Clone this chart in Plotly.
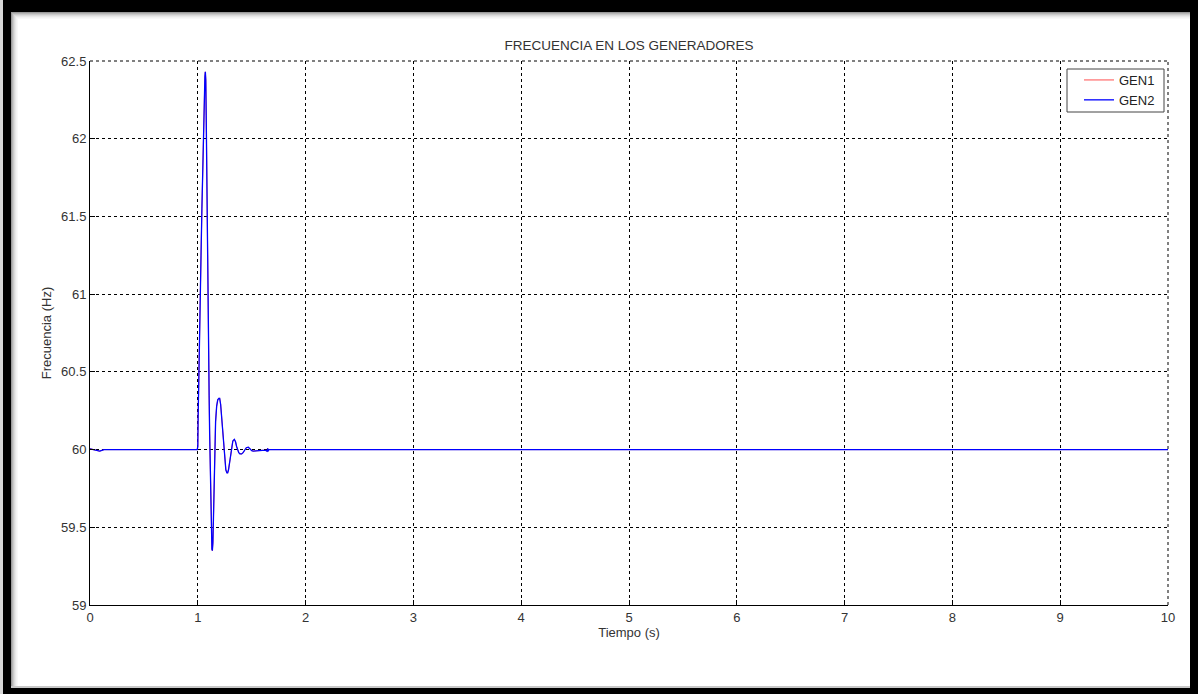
import plotly.graph_objects as go

# ---- data ----
time_s = [0.0, 0.03, 0.05, 0.07, 0.09, 0.11, 0.13, 0.995,
          1.000, 1.003, 1.008, 1.015, 1.022, 1.030, 1.038, 1.046, 1.053, 1.060, 1.066, 1.070,
          1.074, 1.078, 1.083, 1.088, 1.093, 1.099, 1.105, 1.110, 1.115, 1.120, 1.126, 1.131,
          1.135, 1.140, 1.145, 1.150, 1.157, 1.165, 1.175, 1.185, 1.195, 1.203, 1.212, 1.221,
          1.230, 1.240, 1.250, 1.260, 1.270, 1.277, 1.285, 1.295, 1.305, 1.315, 1.325, 1.339,
          1.350, 1.360, 1.370, 1.380, 1.390, 1.407, 1.420, 1.430, 1.440, 1.450, 1.469, 1.480,
          1.490, 1.500, 1.515, 1.540, 1.570, 1.600, 1.630, 1.643, 1.648, 1.653, 1.660, 1.680,
          10.0]
gen2_hz = [60.005, 60.0, 59.995, 59.99, 59.99, 59.995, 60.0, 60.0,
           60.02, 60.20, 60.45, 60.70, 60.95, 61.25, 61.55, 61.85, 62.10, 62.30, 62.40, 62.43,
           62.38, 62.15, 61.75, 61.25, 60.80, 60.55, 60.35, 60.10, 59.85, 59.58, 59.42, 59.36,
           59.35, 59.40, 59.55, 59.75, 60.00, 60.18, 60.28, 60.32, 60.33, 60.33, 60.29, 60.21,
           60.11, 60.00, 59.92, 59.87, 59.85, 59.85, 59.87, 59.92, 59.99, 60.03, 60.055, 60.066,
           60.05, 60.02, 59.995, 59.98, 59.973, 59.972, 59.98, 59.992, 60.004, 60.012, 60.015, 60.01,
           60.0, 59.993, 59.99, 59.992, 59.995, 59.995, 59.995, 59.99, 60.008, 59.99, 60.0, 60.0,
           60.0]
gen1_hz = list(gen2_hz)

x_ticks = [0, 1, 2, 3, 4, 5, 6, 7, 8, 9, 10]
y_ticks = [59, 59.5, 60, 60.5, 61, 61.5, 62, 62.5]
y_tick_text = ["59", "59.5", "60", "60.5", "61", "61.5", "62", "62.5"]

# ---- layout geometry ----
W, H = 1198, 694
L, R, T, B = 90, 1168, 61, 605


def px(x):
    return (x - L) / (R - L)


def py(y):
    return (B - y) / (B - T)


fig = go.Figure()
fig.add_trace(go.Scatter(x=time_s, y=gen1_hz, mode="lines", name="GEN1",
                         line=dict(color="#ff0000", width=0.7)))
fig.add_trace(go.Scatter(x=time_s, y=gen2_hz, mode="lines", name="GEN2",
                         line=dict(color="#0000ff", width=1.3)))

font = "Liberation Sans, Arial, sans-serif"

shapes = []
# black outer frame
for (x0, y0, x1, y1) in [(3, 0, 11, H), (0, 0, W, 12), (1190, 0, W, H), (0, 688, W, H)]:
    shapes.append(dict(type="rect", xref="paper", yref="paper",
                       x0=px(x0), x1=px(x1), y0=py(y0), y1=py(y1),
                       fillcolor="black", line=dict(width=0), layer="above"))
# light left strip
shapes.append(dict(type="rect", xref="paper", yref="paper", x0=px(0), x1=px(3), y0=py(0), y1=py(H),
                   fillcolor="#d8d8d8", line=dict(width=0), layer="above"))
# inner grey gradient (shadow)
greys = ["#9a9a9a", "#b5b5b5", "#cacaca", "#dbdbdb", "#e8e8e8", "#f2f2f2", "#f8f8f8"]
for i, g in enumerate(greys):
    shapes.append(dict(type="rect", xref="paper", yref="paper",
                       x0=px(11 + i), x1=px(1190), y0=py(12 + i), y1=py(13 + i),
                       fillcolor=g, line=dict(width=0), layer="above"))
    shapes.append(dict(type="rect", xref="paper", yref="paper",
                       x0=px(11 + i), x1=px(12 + i), y0=py(12 + i), y1=py(688),
                       fillcolor=g, line=dict(width=0), layer="above"))
shapes.append(dict(type="rect", xref="paper", yref="paper",
                   x0=px(11), x1=px(1190), y0=py(686), y1=py(688),
                   fillcolor="#c8c8c8", line=dict(width=0), layer="above"))
# dotted top and right borders of the axes box
shapes.append(dict(type="line", xref="paper", yref="paper", x0=0, x1=1, y0=1, y1=1,
                   line=dict(color="black", width=1, dash="dot")))
shapes.append(dict(type="line", xref="paper", yref="paper", x0=1, x1=1, y0=0, y1=1,
                   line=dict(color="black", width=1, dash="dot")))
# legend box
shapes.append(dict(type="rect", xref="paper", yref="paper",
                   x0=px(1067), x1=px(1164), y0=py(69), y1=py(112),
                   fillcolor="white", line=dict(color="#444444", width=1), layer="above"))

fig.update_layout(
    width=W, height=H,
    margin=dict(l=L, r=W - R, t=T, b=H - B, pad=0),
    paper_bgcolor="white", plot_bgcolor="white",
    font=dict(family=font, size=12, color="#333333"),
    title=dict(text="FRECUENCIA EN LOS GENERADORES", xref="paper", x=px(629), xanchor="center",
               y=1 - 45 / H, yanchor="middle", font=dict(size=13.5, color="#333333")),
    showlegend=True,
    legend=dict(x=px(1079), xanchor="left", y=py(65), yanchor="top",
                bgcolor="rgba(0,0,0,0)", borderwidth=0,
                font=dict(size=13, color="#222222"), tracegroupgap=0,
                itemwidth=30),
    shapes=shapes,
)
fig.update_xaxes(range=[0, 10], tickvals=x_ticks, ticktext=[str(v) for v in x_ticks],
                 showgrid=True, gridcolor="black", griddash="dot", gridwidth=1,
                 showline=True, linecolor="black", linewidth=1,
                 ticks="inside", ticklen=5, tickcolor="black",
                 tickfont=dict(size=13, color="#333333"), zeroline=False,
                 title=dict(text="Tiempo (s)", font=dict(size=13, color="#333333"), standoff=4))
fig.update_yaxes(range=[59, 62.5], tickvals=y_ticks, ticktext=y_tick_text,
                 showgrid=True, gridcolor="black", griddash="dot", gridwidth=1,
                 showline=True, linecolor="black", linewidth=1,
                 ticks="inside", ticklen=5, tickcolor="black",
                 tickfont=dict(size=13, color="#333333"), zeroline=False,
                 title=dict(text="Frecuencia (Hz)", font=dict(size=13, color="#333333"), standoff=6))

fig.write_html("out.html", config={"displayModeBar": False},
               post_script="document.body.style.margin='0';")
